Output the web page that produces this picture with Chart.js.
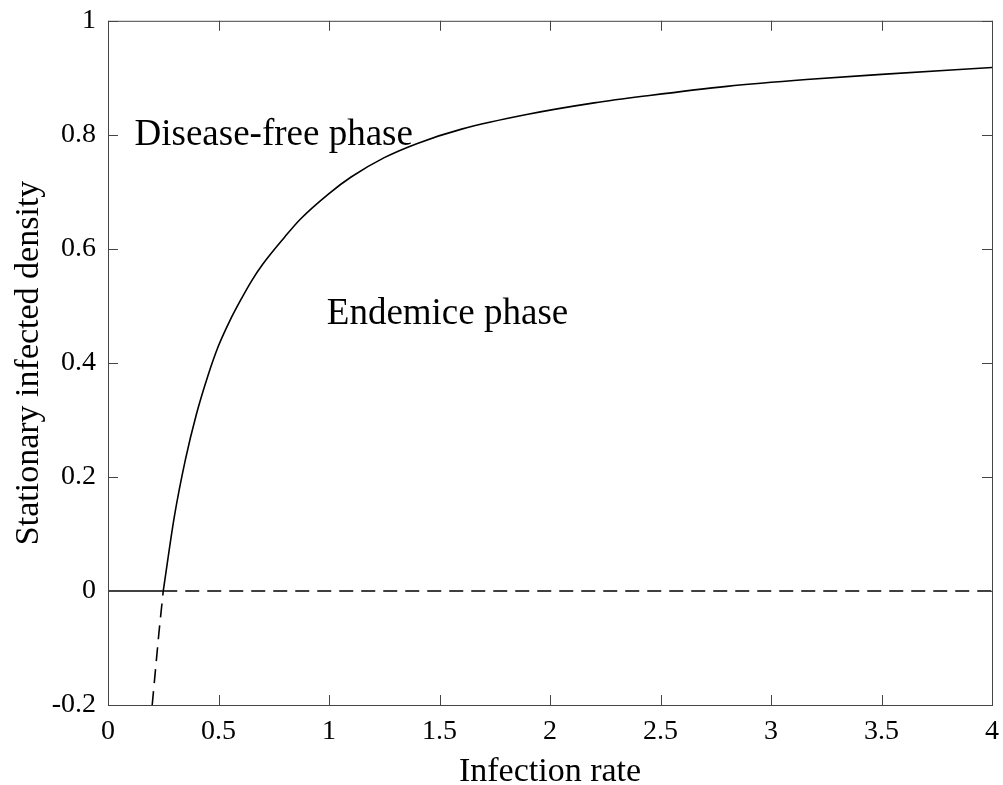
<!DOCTYPE html>
<html>
<head>
<meta charset="utf-8">
<script src="https://cdn.jsdelivr.net/npm/chart.js@4/dist/chart.umd.min.js"></script>
<style>
  body { margin: 0; background: #fff; }
  #wrap { width: 1003px; height: 785px; }
</style>
</head>
<body>
<div id="wrap"><canvas id="phaseChart" width="1003" height="785"></canvas></div>
<script>
// upper (stable) branch
const upperX = [0.25, 0.3, 0.35, 0.4, 0.45, 0.5, 0.55, 0.6, 0.65, 0.7, 0.8, 0.87, 1.0, 1.1, 1.25, 1.4, 1.6, 1.9, 2.2, 2.45, 2.8, 3.16, 3.5, 4.0];
const upperY = [0, 0.13, 0.23, 0.31, 0.375, 0.43, 0.473, 0.51, 0.544, 0.573, 0.621, 0.652, 0.697, 0.726, 0.76, 0.785, 0.81, 0.836, 0.856, 0.869, 0.885, 0.897, 0.906, 0.918];

// lower (unstable) branch, dashed
const lowerX = [0.2, 0.23, 0.25];
const lowerY = [-0.2, -0.075, 0];

// zero solution: stable up to threshold, unstable after
const zeroSolidX = [0, 0.25];
const zeroDashX = [0.25, 4];

const xTicks = [0, 0.5, 1, 1.5, 2, 2.5, 3, 3.5, 4];
const yTicks = [-0.2, 0, 0.2, 0.4, 0.6, 0.8, 1];

const labels = [
  { text: 'Disease-free phase', x: 0.12, y: 0.8 },
  { text: 'Endemice phase', x: 0.99, y: 0.485 }
];

const serif = '"Liberation Serif", "DejaVu Serif", serif';

function pts(xs, ys) {
  return xs.map((x, i) => ({ x: x, y: ys[i] }));
}

// frame with inward ticks on all four sides + text labels
const framePlugin = {
  id: 'frame',
  afterDraw(chart) {
    const ctx = chart.ctx;
    const a = chart.chartArea;
    const xs = chart.scales.x, ys = chart.scales.y;
    ctx.save();
    ctx.strokeStyle = '#444';
    ctx.lineWidth = 1;
    ctx.strokeRect(a.left + 0.5, a.top + 0.5, a.right - a.left, a.bottom - a.top);
    ctx.beginPath();
    xTicks.forEach(v => {
      const px = Math.round(xs.getPixelForValue(v)) + 0.5;
      ctx.moveTo(px, a.bottom); ctx.lineTo(px, a.bottom - 10);
      ctx.moveTo(px, a.top); ctx.lineTo(px, a.top + 10);
    });
    yTicks.forEach(v => {
      const py = Math.round(ys.getPixelForValue(v)) + 0.5;
      ctx.moveTo(a.left, py); ctx.lineTo(a.left + 10, py);
      ctx.moveTo(a.right, py); ctx.lineTo(a.right - 10, py);
    });
    ctx.stroke();

    ctx.fillStyle = '#000';
    ctx.font = '37px ' + serif;
    ctx.textAlign = 'left';
    ctx.textBaseline = 'middle';
    labels.forEach(l => {
      ctx.fillText(l.text, xs.getPixelForValue(l.x), ys.getPixelForValue(l.y));
    });
    ctx.restore();
  }
};

const ctx = document.getElementById('phaseChart').getContext('2d');
new Chart(ctx, {
  type: 'scatter',
  data: {
    datasets: [
      {
        data: pts(upperX, upperY),
        showLine: true,
        borderColor: '#000',
        borderWidth: 1.6,
        pointRadius: 0,
        cubicInterpolationMode: 'monotone'
      },
      {
        data: pts(lowerX, lowerY),
        showLine: true,
        borderColor: '#000',
        borderWidth: 1.6,
        borderDash: [14, 8],
        pointRadius: 0
      },
      {
        data: pts(zeroSolidX, [0, 0]),
        showLine: true,
        borderColor: '#000',
        borderWidth: 1.6,
        pointRadius: 0
      },
      {
        data: pts(zeroDashX, [0, 0]),
        showLine: true,
        borderColor: '#000',
        borderWidth: 1.6,
        borderDash: [14, 8],
        pointRadius: 0
      }
    ]
  },
  options: {
    responsive: false,
    animation: false,
    layout: { padding: { top: 13, right: 11, left: 9, bottom: 0 } },
    plugins: {
      legend: { display: false },
      tooltip: { enabled: false }
    },
    scales: {
      x: {
        type: 'linear',
        min: 0,
        max: 4,
        afterBuildTicks: s => { s.ticks = xTicks.map(v => ({ value: v })); },
        afterFit: s => { s.height = 80; s.paddingRight = 0; s.paddingLeft = 0; },
        grid: { display: false },
        border: { display: false },
        ticks: {
          color: '#000',
          padding: 2,
          font: { family: serif, size: 28 },
          callback: v => String(v)
        },
        title: {
          display: true,
          text: 'Infection rate',
          color: '#000',
          font: { family: serif, size: 34 },
          padding: { top: 0, bottom: -7 }
        }
      },
      y: {
        type: 'linear',
        min: -0.2,
        max: 1,
        afterBuildTicks: s => { s.ticks = yTicks.map(v => ({ value: v })); },
        afterFit: s => { s.width = 99; },
        grid: { display: false },
        border: { display: false },
        ticks: {
          color: '#000',
          padding: 4,
          font: { family: serif, size: 28 },
          callback: v => String(v)
        },
        title: {
          display: true,
          text: 'Stationary infected density',
          color: '#000',
          font: { family: serif, size: 34 },
          padding: { top: 0, bottom: 0 }
        }
      }
    }
  },
  plugins: [framePlugin]
});
</script>
</body>
</html>
